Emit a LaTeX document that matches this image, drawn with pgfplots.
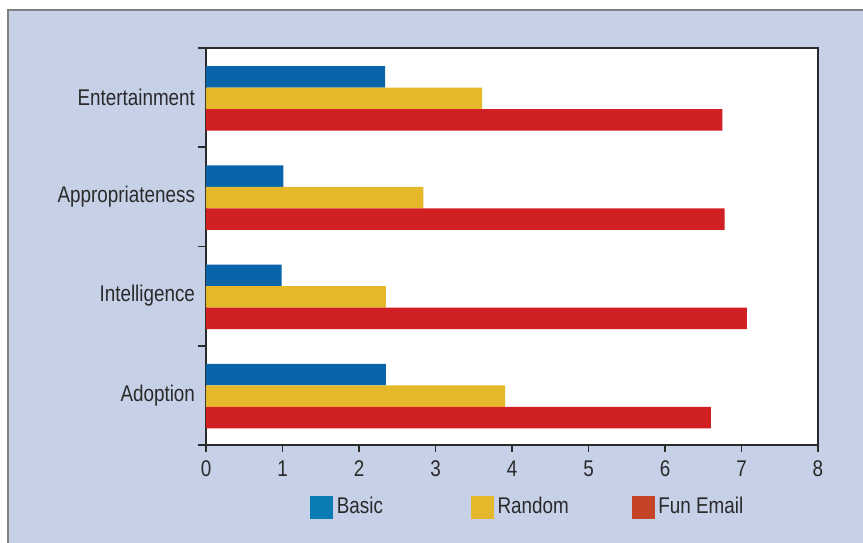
\documentclass[border=0pt]{standalone}
\usepackage{fontspec}
\setmainfont{Liberation Sans}[FakeStretch=0.83]
\usepackage{pgfplots}
\pgfplotsset{compat=1.18}
\definecolor{bg}{HTML}{C6D1E7}
\definecolor{cB}{HTML}{0865A9}
\definecolor{cR}{HTML}{E5B82C}
\definecolor{cF}{HTML}{D02024}
\definecolor{lB}{HTML}{0A7BB3}
\definecolor{lF}{HTML}{C64426}
\definecolor{txt}{HTML}{2A2A2A}
\definecolor{axc}{HTML}{2B2B2B}
\begin{document}
\begin{tikzpicture}[x=1bp,y=1bp]
\path[use as bounding box] (-103,-49) rectangle (328.5,222.5);
\fill[bg] (-99,-49) rectangle (328.5,217.5);
\draw[gray, line width=0.7bp] (-99,-49) -- (-99,217.5) -- (328.5,217.5);
\begin{axis}[
  at={(0,0)}, anchor=south west,
  scale only axis, width=306bp, height=198.5bp,
  axis background/.style={fill=white},
  axis line style={axc, line width=0.75bp},
  xbar, bar width=0.217,
  xmin=0, xmax=8, ymin=-0.5, ymax=3.5,
  xtick={0,1,2,3,4,5,6,7,8},
  ytick={0,1,2,3},
  yticklabels={Adoption, Intelligence, Appropriateness, Entertainment},
  minor ytick={-0.5,0.5,1.5,2.5,3.5},
  major y tick style={draw=none},
  minor y tick style={axc, line width=0.75bp},
  major x tick style={axc, line width=0.75bp},
  tick align=outside,
  major tick length=3.5bp, minor tick length=4bp,
  xtick pos=bottom, ytick pos=left,
  tick label style={text=txt, font=\fontsize{11.4}{13}\selectfont},
  yticklabel style={xshift=1.5bp},
  xticklabel style={yshift=-1bp},
  /pgf/number format/assume math mode=true,
  legend columns=3,
  legend style={draw=none, fill=none, inner sep=0pt, outer sep=0pt,
    at={(0.170,-0.156)}, anchor=west,
    font=\fontsize{11.4}{13}\selectfont, text=txt,
    nodes={inner sep=0pt},
    /tikz/every odd column/.append style={column sep=2bp}},
]
\addplot[draw=none, fill=cB, bar shift=0.21, forget plot] coordinates {(2.35,0) (0.99,1) (1.01,2) (2.34,3)};
\addplot[draw=none, fill=cR, bar shift=-0.007, forget plot] coordinates {(3.91,0) (2.35,1) (2.84,2) (3.61,3)};
\addplot[draw=none, fill=cF, bar shift=-0.224, forget plot] coordinates {(6.60,0) (7.07,1) (6.78,2) (6.75,3)};
\addlegendimage{legend image code/.code={\fill[lB] (0bp,-5.5bp) rectangle (11bp,5.5bp);}}
\addlegendentry{\makebox[67bp][l]{Basic}}
\addlegendimage{legend image code/.code={\fill[cR] (0bp,-5.5bp) rectangle (11bp,5.5bp);}}
\addlegendentry{\makebox[67bp][l]{Random}}
\addlegendimage{legend image code/.code={\fill[lF] (0bp,-5.5bp) rectangle (11bp,5.5bp);}}
\addlegendentry{\makebox[67bp][l]{Fun Email}}
\end{axis}
\end{tikzpicture}
\end{document}
